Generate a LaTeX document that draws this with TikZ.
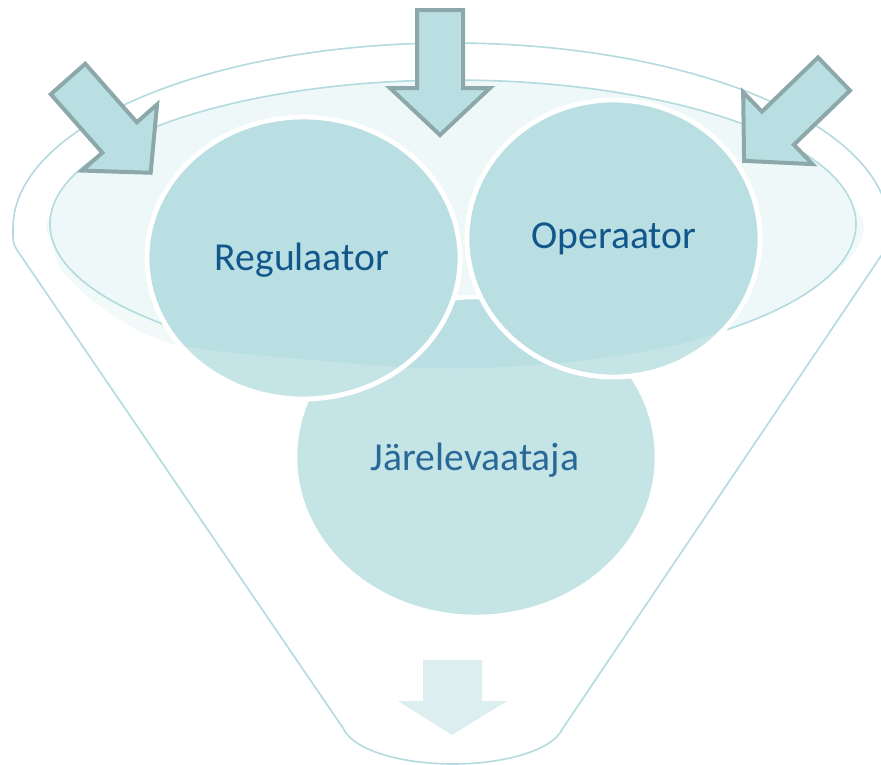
\documentclass[tikz,border=0pt]{standalone}
\usepackage{fontspec}
\setmainfont{Carlito}
\definecolor{funnel}{HTML}{B3DBDF}
\definecolor{mouth}{HTML}{EFF8F8}
\definecolor{mouthsh}{HTML}{F2F9F9}
\definecolor{ballin}{HTML}{BADFE2}
\definecolor{ballout}{HTML}{C4E4E6}
\definecolor{arrowfill}{HTML}{B9DFE2}
\definecolor{arrowline}{HTML}{8DA8AA}
\definecolor{outarrow}{HTML}{DDEEF1}
\definecolor{txtdark}{HTML}{12578C}
\definecolor{txtlight}{HTML}{2A6997}
\begin{document}
\begin{tikzpicture}[x=1pt,y=-1pt,
  funnelline/.style={draw=funnel,line width=1.6pt},
  inarrow/.style={fill=arrowfill,draw=arrowline,line width=4pt,miter limit=10},
  ringtext/.style={font=\fontsize{39.6}{46}\selectfont,anchor=base,inner sep=0pt},
  shadowshape/.style={insert path={plot[smooth cycle,tension=0.55] coordinates {(51,215) (53,245) (63,272) (105,310) (170,343) (290,358) (440,368) (560,362) (680,344) (780,305) (840,268) (863,233) (852,205) (780,148) (600,100) (453,92) (300,100) (130,148)}}},
  mouthshape/.style={insert path={(453,224) ellipse[x radius=403,y radius=144]}},
]
\useasboundingbox (0,0) rectangle (881,764);

% funnel body
\draw[funnelline] (343,728) -- (17,250) .. controls (13,243) .. (13,228)
  arc[start angle=180,end angle=360,x radius=438,y radius=185]
  .. controls (889,243) .. (885,250) -- (563,728)
  .. controls (552,752) and (500,764) .. (453,764)
  .. controls (406,764) and (354,752) .. (343,728);

% mouth of the funnel
\path[fill=mouthsh, shadowshape];
\path[fill=mouth, draw=funnel, line width=1.6pt, mouthshape];

% Järelevaataja
\fill[ballout] (476,457) ellipse[x radius=181,y radius=160];
\begin{scope}\path[clip, shadowshape];\fill[ballin] (476,457) ellipse[x radius=181,y radius=160];\end{scope}
\begin{scope}\path[clip, mouthshape];\fill[ballin] (476,457) ellipse[x radius=181,y radius=160];\end{scope}
\draw[white,line width=4.5pt] (476,457) ellipse[x radius=181,y radius=160];

% Regulaator
\fill[ballout] (303.5,258) ellipse[x radius=156.5,y radius=141];
\begin{scope}\path[clip, shadowshape];\fill[ballin] (303.5,258) ellipse[x radius=156.5,y radius=141];\end{scope}
\begin{scope}\path[clip, mouthshape];\fill[ballin] (303.5,258) ellipse[x radius=156.5,y radius=141];\end{scope}
\draw[white,line width=4.8pt] (303.5,258) ellipse[x radius=156.5,y radius=141];

% Operaator
\fill[ballout] (613.5,238.5) ellipse[x radius=146.5,y radius=138.5];
\begin{scope}\path[clip, shadowshape];\fill[ballin] (613.5,238.5) ellipse[x radius=146.5,y radius=138.5];\end{scope}
\begin{scope}\path[clip, mouthshape];\fill[ballin] (613.5,238.5) ellipse[x radius=146.5,y radius=138.5];\end{scope}
\draw[white,line width=4.8pt] (613.5,238.5) ellipse[x radius=146.5,y radius=138.5];

% incoming arrows
\draw[inarrow, shift={(440,10)}] (-23,0) -- (23,0) -- (23,78) -- (50,78) -- (0,125) -- (-50,78) -- (-23,78) -- cycle;
\draw[inarrow, shift={(68,79)}, rotate=41.4] (-23,0) -- (23,0) -- (23,78) -- (50,78) -- (0,125) -- (-50,78) -- (-23,78) -- cycle;
\draw[inarrow, shift={(834,74)}, rotate=-46] (-23,0) -- (23,0) -- (23,78) -- (50,78) -- (0,125) -- (-50,78) -- (-23,78) -- cycle;

% outgoing arrow
\fill[outarrow] (423,660) -- (482,660) -- (482,701) -- (507,701) -- (452,735) -- (398,701) -- (423,701) -- cycle;

% texts
\node[ringtext, text=txtdark] (reg) at (302,270) {Regulaator};
\node[ringtext, text=txtdark] (op) at (614,248) {Operaator};
\node[ringtext, text=txtlight] (jar) at (475,470) {Järelevaataja};
\end{tikzpicture}
\end{document}
